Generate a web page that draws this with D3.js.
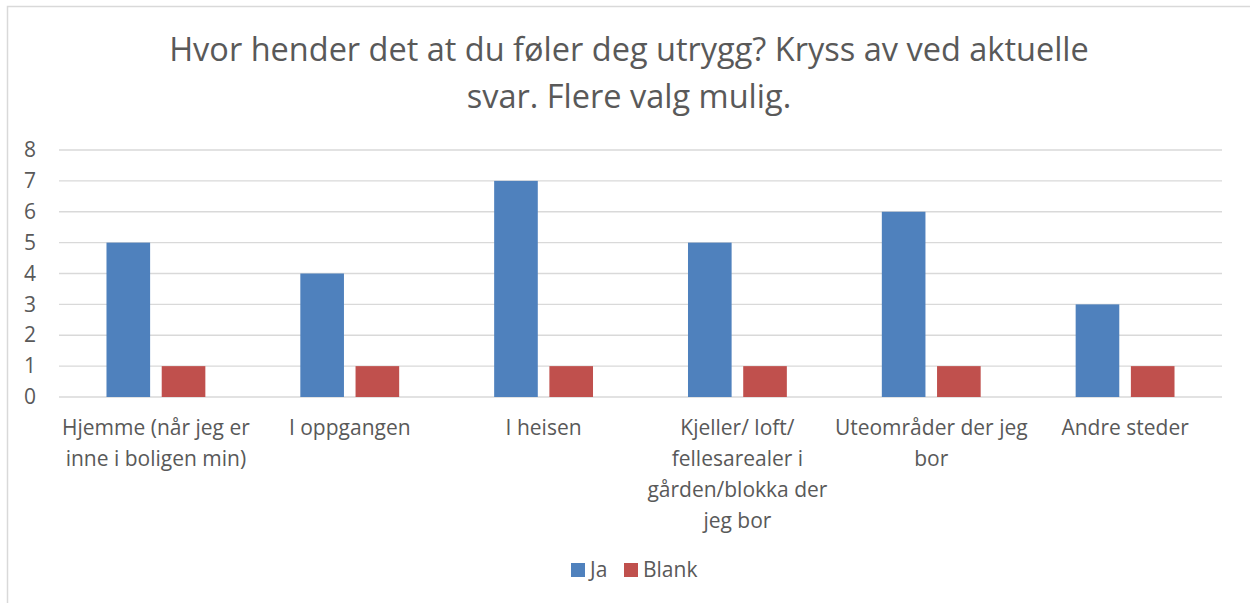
<!DOCTYPE html>
<html>
<head>
<meta charset="utf-8">
<script src="https://cdn.jsdelivr.net/npm/d3@7"></script>
<style>
  body { margin: 0; background: #fff; }
  text { font-family: "Open Sans", Lato, sans-serif; fill: #595959; }
</style>
</head>
<body>
<div id="chart"></div>
<script>
// data
const titleLines = ["Hvor hender det at du føler deg utrygg? Kryss av ved aktuelle", "svar. Flere valg mulig."];
const categories = ["hjemme", "oppgangen", "heisen", "kjeller", "ute", "andre"];
const categoryLabels = [
  ["Hjemme (når jeg er", "inne i boligen min)"],
  ["I oppgangen"],
  ["I heisen"],
  ["Kjeller/ loft/", "fellesarealer i", "gården/blokka der", "jeg bor"],
  ["Uteområder der jeg", "bor"],
  ["Andre steder"]
];
const seriesNames = ["Ja", "Blank"];
const jaValues = [5, 4, 7, 5, 6, 3];
const blankValues = [1, 1, 1, 1, 1, 1];
const yTicks = [0, 1, 2, 3, 4, 5, 6, 7, 8];
const colors = ["#4F81BD", "#C0504D"];

const size = {
  width: 1250,
  height: 603,
  margin: { top: 150, right: 28, bottom: 206, left: 59 }
};

const svg = d3.select("#chart").append("svg")
  .attr("width", size.width)
  .attr("height", size.height);

// chart border (only top and left visible in the crop)
svg.append("path")
  .attr("d", "M7.5,603 L7.5,6.5 L1250,6.5")
  .attr("fill", "none")
  .attr("stroke", "#D9D9D9")
  .attr("stroke-width", 1.5);

// title
svg.append("g").selectAll("text")
  .data(titleLines)
  .enter()
  .append("text")
  .attr("x", 629)
  .attr("y", (d, i) => 61 + i * 47)
  .attr("text-anchor", "middle")
  .style("font-size", "32.5px")
  .text(d => d);

const innerW = size.width - size.margin.left - size.margin.right;
const innerH = size.height - size.margin.top - size.margin.bottom;

const x0 = d3.scaleBand().domain(categories).range([0, innerW]);
const groupW = x0.bandwidth() * 0.51;
const x1 = d3.scaleBand().domain(seriesNames)
  .range([(x0.bandwidth() - groupW) / 2, (x0.bandwidth() + groupW) / 2])
  .paddingInner(0.21);
const y = d3.scaleLinear().domain([0, 8]).range([innerH, 0]);

const g = svg.append("g")
  .attr("transform", `translate(${size.margin.left}, ${size.margin.top})`);

// gridlines
g.append("g").selectAll("line")
  .data(yTicks)
  .enter()
  .append("line")
  .attr("x1", 0).attr("x2", innerW)
  .attr("y1", d => y(d)).attr("y2", d => y(d))
  .attr("stroke", "#D9D9D9")
  .attr("stroke-width", 1.3);

// y axis
const yAxis = g.append("g")
  .call(d3.axisLeft(y).tickValues(yTicks).tickSize(0).tickPadding(23).tickFormat(d3.format("d")));
yAxis.select(".domain").remove();
yAxis.selectAll("text").style("font-size", "21px").attr("fill", "#595959");

// bars
const rows = categories.map((c, i) => ({ cat: c, vals: [jaValues[i], blankValues[i]] }));
g.append("g").selectAll("g")
  .data(rows)
  .enter()
  .append("g")
  .attr("transform", d => `translate(${x0(d.cat)},0)`)
  .selectAll("rect")
  .data(d => d.vals.map((v, k) => ({ name: seriesNames[k], v: v, k: k })))
  .enter()
  .append("rect")
  .attr("x", d => x1(d.name))
  .attr("width", x1.bandwidth())
  .attr("y", d => y(d.v))
  .attr("height", d => y(0) - y(d.v))
  .attr("fill", d => colors[d.k]);

// category labels
const xLab = g.append("g").selectAll("text")
  .data(categories)
  .enter()
  .append("text")
  .attr("text-anchor", "middle")
  .attr("transform", d => `translate(${x0(d) + x0.bandwidth() / 2}, ${innerH + 38})`)
  .style("font-size", "21px");
xLab.selectAll("tspan")
  .data((d, i) => categoryLabels[i])
  .enter()
  .append("tspan")
  .attr("x", 0)
  .attr("y", (d, i) => i * 31)
  .text(d => d);

// legend
const legendX = [571, 624];
const legend = svg.append("g").selectAll("g")
  .data(seriesNames)
  .enter()
  .append("g")
  .attr("transform", (d, i) => `translate(${legendX[i]}, 563)`);
legend.append("rect")
  .attr("width", 14).attr("height", 14)
  .attr("fill", (d, i) => colors[i]);
legend.append("text")
  .attr("x", 19).attr("y", 14)
  .style("font-size", "21px")
  .text(d => d);
</script>
</body>
</html>
